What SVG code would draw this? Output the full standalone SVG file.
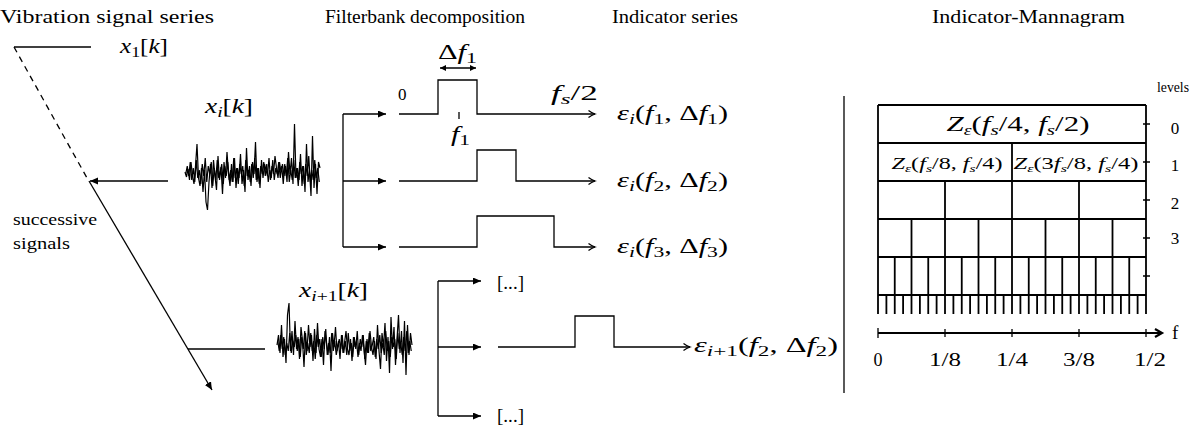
<svg xmlns="http://www.w3.org/2000/svg" width="1203" height="429" viewBox="0 0 1203 429">
<style>
.t{font-family:"Liberation Serif","Times New Roman",serif;font-size:19px;fill:#000}
.m{font-family:"Liberation Serif","Times New Roman",serif;font-size:21px;fill:#000}
.ms{font-family:"Liberation Serif","Times New Roman",serif;font-size:16px;fill:#000}
.i{font-style:italic}
.ln{fill:none;stroke:#000;stroke-width:1.3}
.g{fill:none;stroke:#000;stroke-width:1.8}
.sig{fill:none;stroke:#000;stroke-width:1.2;stroke-linejoin:miter}
</style>
<defs>
<marker id="tri" markerUnits="userSpaceOnUse" markerWidth="10" markerHeight="10" refX="8" refY="3.5" orient="auto">
<path d="M0,0 L8,3.5 L0,7 Z" fill="#000"/>
</marker>
<marker id="triS" markerUnits="userSpaceOnUse" markerWidth="10" markerHeight="10" refX="6" refY="3" orient="auto-start-reverse">
<path d="M0,0 L6,3 L0,6 Z" fill="#000"/>
</marker>
<marker id="open" markerUnits="userSpaceOnUse" markerWidth="12" markerHeight="12" refX="7" refY="4" orient="auto">
<path d="M0.5,0.5 C2.5,2 5,3.3 7,4 C5,4.7 2.5,6 0.5,7.5" fill="none" stroke="#000" stroke-width="1.3"/>
</marker>
<marker id="openB" markerUnits="userSpaceOnUse" markerWidth="12" markerHeight="12" refX="8" refY="5" orient="auto">
<path d="M1,1 L8,5 L1,9" fill="none" stroke="#000" stroke-width="2.2"/>
</marker>
</defs>

<g id="titles">
<text class="t" x="0" y="23" textLength="214" lengthAdjust="spacingAndGlyphs">Vibration signal series</text>
<text class="t" x="325" y="23" textLength="200" lengthAdjust="spacingAndGlyphs">Filterbank decomposition</text>
<text class="t" x="612" y="23" textLength="126" lengthAdjust="spacingAndGlyphs">Indicator series</text>
<text class="t" x="932" y="23" textLength="193" lengthAdjust="spacingAndGlyphs">Indicator-Mannagram</text>
</g>

<g id="signal-x1">
<text class="m" x="120" y="53" textLength="48" lengthAdjust="spacingAndGlyphs"><tspan class="i">x</tspan><tspan font-size="15" dy="4">1</tspan><tspan dy="-4">[</tspan><tspan class="i">k</tspan>]</text>
</g>

<g id="signal-xi">
<text class="m" x="205" y="113" textLength="48" lengthAdjust="spacingAndGlyphs"><tspan class="i">x</tspan><tspan class="i" font-size="15" dy="4">i</tspan><tspan dy="-4">[</tspan><tspan class="i">k</tspan>]</text>
<polyline class="sig" vector-effect="non-scaling-stroke" transform="translate(185,172) scale(1.5,1)" points="0,0 1,5 2,-3 3,8 4,-10 5,4 6,12 7,-6 8,-28 9,6 10,14 11,-4 12,20 13,-2 14,30 15,38 16,10 17,-8 18,16 19,-12 20,4 21,18 22,-16 23,8 24,-5 25,22 26,-10 27,6 28,-20 29,2 30,14 31,-8 32,10 33,-14 34,16 35,-4 36,6 37,-18 38,12 39,-2 40,20 41,-24 42,8 43,-6 44,14 45,-10 46,2 47,-30 48,10 49,-4 50,16 51,-12 52,6 53,-8 54,-2 55,4 56,-14 57,8 58,-6 59,2 60,-16 61,-4 62,6 63,-10 64,0 65,-8 66,4 67,-6 68,10 69,-20 70,2 71,-14 72,12 73,-48 74,6 75,-4 76,8 77,-18 78,14 79,-6 80,20 81,-28 82,10 83,-2 84,24 85,-36 86,16 87,-8 88,22 89,-10 90,-4"/>
<polyline class="sig" vector-effect="non-scaling-stroke" transform="translate(185.75,172) scale(1.5,1)" points="0,2 1,-6 2,4 3,-10 4,8 5,-4 6,10 7,-12 8,6 9,-2 10,12 11,-8 12,4 13,-14 14,10 15,-6 16,2 17,-10 18,14 19,-4 20,8 21,-12 22,6 23,0 24,-8 25,12 26,-6 27,4 28,-10 29,8 30,-2 31,10 32,-14 33,6 34,-4 35,12 36,-8 37,2 38,-6 39,14 40,-12 41,4 42,-2 43,10 44,-8 45,6 46,-14 47,8 48,-4 49,12 50,-6 51,2 52,-10 53,4 54,-8 55,10 56,-2 57,6 58,-12 59,8 60,-4 61,2 62,-10 63,6 64,-6 65,12 66,-8 67,4 68,-14 69,10 70,-2 71,8 72,-12 73,6 74,-4 75,14 76,-10 77,2 78,-6 79,12 80,-8 81,4 82,-16 83,10 84,-2 85,8 86,-12 87,6 88,-4 89,10"/>
</g>

<g id="signal-xi1">
<text class="m" x="299" y="297" textLength="69" lengthAdjust="spacingAndGlyphs"><tspan class="i">x</tspan><tspan font-size="15" dy="4"><tspan class="i">i</tspan>+1</tspan><tspan dy="-4">[</tspan><tspan class="i">k</tspan>]</text>
<polyline class="sig" vector-effect="non-scaling-stroke" transform="translate(277,345) scale(1.5,1)" points="0,0 1,-10 2,8 3,-20 4,12 5,-6 6,18 7,-30 8,-42 9,6 10,-14 11,10 12,-24 13,4 14,-8 15,14 16,-18 17,-4 18,22 19,-12 20,6 21,-20 22,2 23,-10 24,16 25,-16 26,8 27,-22 28,4 29,12 30,-6 31,20 32,-14 33,-2 34,10 35,-8 36,26 37,-12 38,2 39,-18 40,6 41,-4 42,14 43,-10 44,8 45,-2 46,-14 47,4 48,10 49,-6 50,16 51,-8 52,2 53,-4 54,12 55,-2 56,6 57,-10 58,4 59,20 60,-6 61,8 62,-14 63,2 64,10 65,-4 66,14 67,-20 68,6 69,24 70,-12 71,2 72,-22 73,16 74,-8 75,28 76,-28 77,4 78,-18 79,20 80,-6 81,-30 82,8 83,-14 84,18 85,-24 86,30 87,-20 88,10 89,-12 90,0"/>
<polyline class="sig" vector-effect="non-scaling-stroke" transform="translate(277.75,345) scale(1.5,1)" points="0,-4 1,6 2,-10 3,4 4,-8 5,10 6,-2 7,6 8,-12 9,8 10,-4 11,2 12,-10 13,6 14,-6 15,12 16,-8 17,4 18,-14 19,10 20,-2 21,8 22,-12 23,6 24,-4 25,14 26,-10 27,2 28,-6 29,12 30,-8 31,4 32,-16 33,10 34,-2 35,8 36,-12 37,6 38,-4 39,10 40,2 41,-6 42,4 43,-10 44,8 45,-4 46,10 47,-12 48,6 49,-2 50,12 51,-8 52,4 53,-14 54,10 55,-6 56,2 57,-10 58,14 59,-4 60,8 61,-12 62,6 63,0 64,-8 65,12 66,-6 67,4 68,-10 69,8 70,-2 71,10 72,-14 73,6 74,-4 75,12 76,-8 77,2 78,-6 79,14 80,-12 81,4 82,-2 83,10 84,-8 85,6 86,-14 87,8 88,-4 89,6"/>
</g>

<g id="successive-label">
<text class="t" x="13" y="225" style="font-size:17px" textLength="84" lengthAdjust="spacingAndGlyphs">successive</text>
<text class="t" x="13" y="249" style="font-size:17px" textLength="57" lengthAdjust="spacingAndGlyphs">signals</text>
</g>

<g id="connectors">
<path class="ln" d="M14,47 H91"/>
<path class="ln" d="M14,47 L87,178" stroke-dasharray="6,5"/>
<path class="ln" d="M168,181 H90" marker-end="url(#tri)"/>
<path class="ln" d="M89,181 L212,390" marker-end="url(#tri)"/>
<path class="ln" d="M188,349 H265"/>
<path class="ln" d="M343,114 V247"/>
<path class="ln" d="M343,114 H386" marker-end="url(#tri)"/>
<path class="ln" d="M343,181 H386" marker-end="url(#tri)"/>
<path class="ln" d="M343,247 H386" marker-end="url(#tri)"/>
<path class="ln" d="M438,281 V416"/>
<path class="ln" d="M438,281 H481" marker-end="url(#tri)"/>
<path class="ln" d="M438,347 H481" marker-end="url(#tri)"/>
<path class="ln" d="M438,416 H481" marker-end="url(#tri)"/>
<path class="ln" d="M440,68 H476" marker-start="url(#triS)" marker-end="url(#triS)"/>
<path class="ln" d="M459,112 V119"/>
<path class="ln" d="M844,96 V393"/>
</g>

<g id="filter-1">
<path class="ln" d="M399,114 H438 V80 H477 V114 H595" marker-end="url(#open)"/>
<text class="m" x="398" y="100" style="font-size:17px">0</text>
<text class="m" x="438" y="59" textLength="39" lengthAdjust="spacingAndGlyphs"><tspan>Δ</tspan><tspan class="i">f</tspan><tspan font-size="15" dy="4">1</tspan></text>
<text class="m" x="551" y="100" textLength="47" lengthAdjust="spacingAndGlyphs"><tspan class="i">f</tspan><tspan class="i" font-size="15" dy="4">s</tspan><tspan dy="-4">/2</tspan></text>
<text class="m" x="451" y="141" textLength="19" lengthAdjust="spacingAndGlyphs"><tspan class="i">f</tspan><tspan font-size="15" dy="4">1</tspan></text>
</g>
<g id="filter-2">
<path class="ln" d="M399,181 H477 V150 H516 V181 H595" marker-end="url(#open)"/>
</g>
<g id="filter-3">
<path class="ln" d="M399,247 H477 V216 H554 V247 H595" marker-end="url(#open)"/>
</g>
<g id="filter-4">
<path class="ln" d="M498,347 H575 V316 H614 V347 H690" marker-end="url(#open)"/>
</g>
<g id="ellipsis">
<text class="m" x="497" y="289" style="font-size:18px" textLength="27" lengthAdjust="spacingAndGlyphs">[...]</text>
<text class="m" x="497" y="422" style="font-size:18px" textLength="27" lengthAdjust="spacingAndGlyphs">[...]</text>
</g>

<g id="indicators">
<text class="m" x="617" y="120" textLength="111" lengthAdjust="spacingAndGlyphs"><tspan class="i">ε</tspan><tspan class="i" font-size="15" dy="4">i</tspan><tspan dy="-4">(</tspan><tspan class="i">f</tspan><tspan font-size="15" dy="4">1</tspan><tspan dy="-4">, Δ</tspan><tspan class="i">f</tspan><tspan font-size="15" dy="4">1</tspan><tspan dy="-4">)</tspan></text>
<text class="m" x="617" y="187" textLength="111" lengthAdjust="spacingAndGlyphs"><tspan class="i">ε</tspan><tspan class="i" font-size="15" dy="4">i</tspan><tspan dy="-4">(</tspan><tspan class="i">f</tspan><tspan font-size="15" dy="4">2</tspan><tspan dy="-4">, Δ</tspan><tspan class="i">f</tspan><tspan font-size="15" dy="4">2</tspan><tspan dy="-4">)</tspan></text>
<text class="m" x="617" y="253" textLength="111" lengthAdjust="spacingAndGlyphs"><tspan class="i">ε</tspan><tspan class="i" font-size="15" dy="4">i</tspan><tspan dy="-4">(</tspan><tspan class="i">f</tspan><tspan font-size="15" dy="4">3</tspan><tspan dy="-4">, Δ</tspan><tspan class="i">f</tspan><tspan font-size="15" dy="4">3</tspan><tspan dy="-4">)</tspan></text>
<text class="m" x="694" y="352" textLength="144" lengthAdjust="spacingAndGlyphs"><tspan class="i">ε</tspan><tspan font-size="15" dy="4"><tspan class="i">i</tspan>+1</tspan><tspan dy="-4">(</tspan><tspan class="i">f</tspan><tspan font-size="15" dy="4">2</tspan><tspan dy="-4">, Δ</tspan><tspan class="i">f</tspan><tspan font-size="15" dy="4">2</tspan><tspan dy="-4">)</tspan></text>
</g>

<g id="mannagram">
<path class="g" d="M878,105 H1146 M878,143 H1146 M878,181 H1146 M878,219 H1146 M878,257 H1146 M878,295 H1146 M878,105 V314 M1146,105 V314"/>
<path class="g" d="M1012,143 V314 M945,181 V314 M1079,181 V314 M911.5,219 V314 M978.5,219 V314 M1045.5,219 V314 M1112.5,219 V314"/>
<path class="g" d="M894.75,257 V314 M928.25,257 V314 M961.75,257 V314 M995.25,257 V314 M1028.75,257 V314 M1062.25,257 V314 M1095.75,257 V314 M1129.25,257 V314"/>
<path class="g" d="M886.4,295 V314 M903.1,295 V314 M919.9,295 V314 M936.6,295 V314 M953.4,295 V314 M970.1,295 V314 M986.9,295 V314 M1003.6,295 V314 M1020.4,295 V314 M1037.1,295 V314 M1053.9,295 V314 M1070.6,295 V314 M1087.4,295 V314 M1104.1,295 V314 M1120.9,295 V314 M1137.6,295 V314"/>
<path class="ln" d="M1143,124 H1150 M1143,162 H1150 M1143,200 H1150 M1143,238 H1150 M1143,276 H1150"/>
<text class="m" x="1018" y="131" text-anchor="middle" style="font-size:22px" textLength="143" lengthAdjust="spacingAndGlyphs"><tspan class="i">Z</tspan><tspan class="i" font-size="14" dy="4">ε</tspan><tspan dy="-4">(</tspan><tspan class="i">f</tspan><tspan class="i" font-size="15" dy="4">s</tspan><tspan dy="-4">/4, </tspan><tspan class="i">f</tspan><tspan class="i" font-size="15" dy="4">s</tspan><tspan dy="-4">/2)</tspan></text>
<text class="ms" x="947" y="169" text-anchor="middle" style="font-size:17px" textLength="111" lengthAdjust="spacingAndGlyphs"><tspan class="i">Z</tspan><tspan class="i" font-size="11" dy="3">ε</tspan><tspan dy="-3">(</tspan><tspan class="i">f</tspan><tspan class="i" font-size="11" dy="3">s</tspan><tspan dy="-3">/8, </tspan><tspan class="i">f</tspan><tspan class="i" font-size="11" dy="3">s</tspan><tspan dy="-3">/4)</tspan></text>
<text class="ms" x="1076" y="169" text-anchor="middle" style="font-size:17px" textLength="125" lengthAdjust="spacingAndGlyphs"><tspan class="i">Z</tspan><tspan class="i" font-size="11" dy="3">ε</tspan><tspan dy="-3">(3</tspan><tspan class="i">f</tspan><tspan class="i" font-size="11" dy="3">s</tspan><tspan dy="-3">/8, </tspan><tspan class="i">f</tspan><tspan class="i" font-size="11" dy="3">s</tspan><tspan dy="-3">/4)</tspan></text>
<text class="ms" x="1157" y="92" style="font-size:14px" textLength="32" lengthAdjust="spacingAndGlyphs">levels</text>
<text class="ms" x="1175" y="134" text-anchor="middle" style="font-size:17px">0</text>
<text class="ms" x="1175" y="171" text-anchor="middle" style="font-size:17px">1</text>
<text class="ms" x="1175" y="209" text-anchor="middle" style="font-size:17px">2</text>
<text class="ms" x="1175" y="244" text-anchor="middle" style="font-size:17px">3</text>
</g>

<g id="axis">
<path class="g" d="M878,333 H1162" marker-end="url(#openB)"/>
<path class="ln" d="M878,328 V338 M945,329 V337 M1012,329 V337 M1079,329 V337 M1146,329 V337"/>
<text class="ms" x="1172" y="339" style="font-size:19px">f</text>
<text class="ms" x="878" y="366" text-anchor="middle" style="font-size:18px">0</text>
<text class="ms" x="945" y="366" text-anchor="middle" style="font-size:18px" textLength="32" lengthAdjust="spacingAndGlyphs">1/8</text>
<text class="ms" x="1012" y="366" text-anchor="middle" style="font-size:18px" textLength="32" lengthAdjust="spacingAndGlyphs">1/4</text>
<text class="ms" x="1079" y="366" text-anchor="middle" style="font-size:18px" textLength="32" lengthAdjust="spacingAndGlyphs">3/8</text>
<text class="ms" x="1150" y="366" text-anchor="middle" style="font-size:18px" textLength="32" lengthAdjust="spacingAndGlyphs">1/2</text>
</g>
</svg>
